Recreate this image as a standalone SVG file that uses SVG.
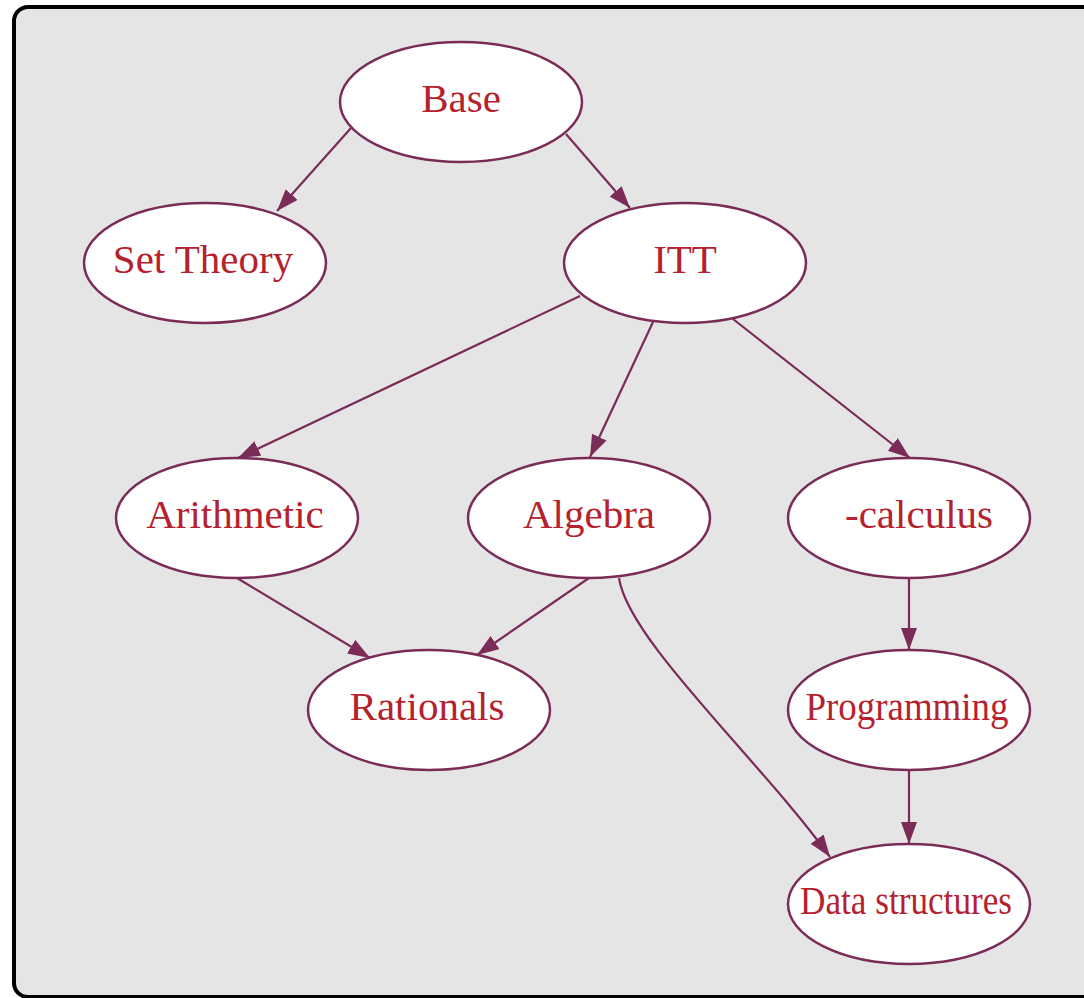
<svg xmlns="http://www.w3.org/2000/svg" width="1084" height="998" viewBox="0 0 1084 998">
<defs>
<style>
.bg{fill:#e5e5e5;stroke:#000;stroke-width:4}
.n ellipse{fill:#fff;stroke:#7b2b57;stroke-width:2.5}
.n text{font-family:'Liberation Serif',serif;font-size:41px;fill:#b5222e;text-anchor:middle}
.e path{fill:none;stroke:#7b2b57;stroke-width:2.2}
</style>
<marker id="ah" markerUnits="userSpaceOnUse" markerWidth="24" markerHeight="18" refX="22" refY="8" orient="auto" viewBox="0 0 24 18">
<path d="M0,0 L22,8 L0,16 z" fill="#7b2b57"/>
</marker>
</defs>
<rect class="bg" x="14" y="7" width="1100" height="990" rx="14" ry="14"/>
<g class="e" id="connectors">
<path d="M351,128 L277,211" marker-end="url(#ah)"/>
<path d="M566,134 L630,208" marker-end="url(#ah)"/>
<path d="M580,296 L238,458" marker-end="url(#ah)"/>
<path d="M653,322 L590,457" marker-end="url(#ah)"/>
<path d="M733,319 L910,458" marker-end="url(#ah)"/>
<path d="M237,578 L370,658" marker-end="url(#ah)"/>
<path d="M589,578 L477,655" marker-end="url(#ah)"/>
<path d="M619,578 C628,640 760,760 830,857" marker-end="url(#ah)"/>
<path d="M909,578 L909,650" marker-end="url(#ah)"/>
<path d="M909,770 L909,844" marker-end="url(#ah)"/>
</g>
<g class="n" id="base"><ellipse cx="461" cy="102" rx="121" ry="60"/><text x="461" y="112" font-family="Liberation Serif, serif">Base</text></g>
<g class="n" id="settheory"><ellipse cx="205" cy="263" rx="121" ry="60"/><text x="203" y="273" font-family="Liberation Serif, serif">Set Theory</text></g>
<g class="n" id="itt"><ellipse cx="685" cy="263" rx="121" ry="60"/><text x="685" y="273" font-family="Liberation Serif, serif">ITT</text></g>
<g class="n" id="arithmetic"><ellipse cx="237" cy="518" rx="121" ry="60"/><text x="235" y="528" font-family="Liberation Serif, serif">Arithmetic</text></g>
<g class="n" id="algebra"><ellipse cx="589" cy="518" rx="121" ry="60"/><text x="589" y="528" font-family="Liberation Serif, serif">Algebra</text></g>
<g class="n" id="lambda"><ellipse cx="909" cy="518" rx="121" ry="60"/><text x="845" y="528" style="text-anchor:start" font-family="Liberation Serif, serif">-calculus</text></g>
<g class="n" id="rationals"><ellipse cx="429" cy="710" rx="121" ry="60"/><text x="427" y="720" font-family="Liberation Serif, serif">Rationals</text></g>
<g class="n" id="programming"><ellipse cx="909" cy="710" rx="121" ry="60"/><text x="907" y="720" textLength="203" lengthAdjust="spacingAndGlyphs" font-family="Liberation Serif, serif">Programming</text></g>
<g class="n" id="datastructures"><ellipse cx="909" cy="904" rx="121" ry="60"/><text x="906" y="914" textLength="212" lengthAdjust="spacingAndGlyphs" font-family="Liberation Serif, serif">Data structures</text></g>
</svg>
